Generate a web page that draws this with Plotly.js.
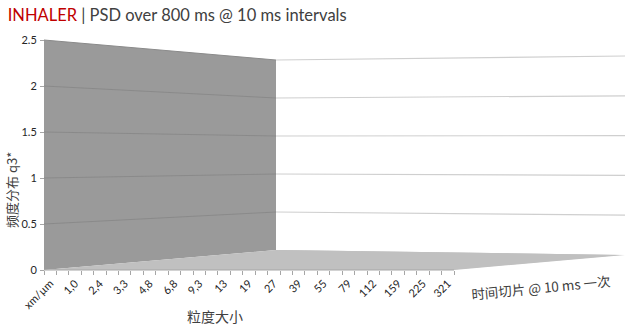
<!DOCTYPE html>
<html><head><meta charset="utf-8">
<script src="https://cdn.plot.ly/plotly-3.0.1.min.js"></script>
<style>html,body{margin:0;padding:0;background:#fff;overflow:hidden}#chart{width:640px;height:330px}</style>
</head><body><div id="chart"></div>
<script>
// ---------------- data ----------------
const particleSizes = ['xm/µm','1,0','2,4','3,3','4,8','6,8','9,3','13','19','27','39','55','79','112','159','225','321'];
const q3Values = [0,0,0,0,0,0,0,0,0,0,0,0,0,0,0,0,0];   // q3* per size class: flat at 0 in every slice
const timeSpanMs = 800;      // PSD over 800 ms
const timeStepMs = 10;       // one slice every 10 ms
const zTickValues = [0, 0.5, 1, 1.5, 2, 2.5];
const zTickLabels = ['0', '0.5', '1', '1.5', '2', '2.5'];

// ---------------- view (3-D box drawn in perspective) ----------------
const W = 640, H = 330;
const FRONT = {l: 44, r: 454, b: 270, t: 40};                        // front face, pixels
const BACK  = {l: 276, r: 625, bl: 250, tl: 60, br: 255, tr: 56};    // back face, pixels
const X0 = -0.25, X1 = particleSizes.length - 1 + 0.25;
const Q0 = zTickValues[0], Q1 = zTickValues[zTickValues.length - 1];
const pxPerX = (FRONT.r - FRONT.l) / (X1 - X0);
const pxPerQ = (FRONT.b - FRONT.t) / (Q1 - Q0);
const xRange = [X0 - FRONT.l / pxPerX, X0 + (W - FRONT.l) / pxPerX];
const yRange = [Q0 - (H - FRONT.b) / pxPerQ, Q0 + FRONT.b / pxPerQ];

function proj(x, q, t) {   // (size index, q3 value, depth 0..1) -> front-face axis coords
  const fx = (x - X0) / (X1 - X0), fq = (q - Q0) / (Q1 - Q0);
  const fu = FRONT.l + fx * (FRONT.r - FRONT.l), fv = FRONT.b - fq * (FRONT.b - FRONT.t);
  const bu = BACK.l + fx * (BACK.r - BACK.l);
  const bb = BACK.bl + fx * (BACK.br - BACK.bl), bt = BACK.tl + fx * (BACK.tr - BACK.tl);
  const bv = bb + fq * (bt - bb);
  const u = fu + (bu - fu) * t, v = fv + (bv - fv) * t;
  return [X0 + (u - FRONT.l) / pxPerX, Q0 + (FRONT.b - v) / pxPerQ];
}
function poly(pts, fill, name) {
  return {type: 'scatter', mode: 'lines', x: pts.map(p => p[0]), y: pts.map(p => p[1]),
    fill: 'toself', fillcolor: fill, line: {width: 0, color: fill}, hoverinfo: 'skip', name: name};
}
function seg(pts, color, width) {
  return {type: 'scatter', mode: 'lines', x: pts.map(p => p[0]), y: pts.map(p => p[1]),
    line: {color: color, width: width}, hoverinfo: 'skip'};
}

const slices = [];
for (let ms = 0; ms < timeSpanMs; ms += timeStepMs) slices.push(ms);
const depth = i => i / (slices.length - 1);

const traces = [];
// side wall (left) and floor
traces.push(poly([proj(X0,Q0,0), proj(X0,Q1,0), proj(X0,Q1,1), proj(X0,Q0,1)], '#9a9a9a', 'side wall'));
traces.push(poly([proj(X0,Q0,0), proj(X1,Q0,0), proj(X1,Q0,1), proj(X0,Q0,1)], '#c0c0c0', 'floor'));
// data surface: q3 for every size class over all time slices
const surf = [];
particleSizes.forEach((s, k) => surf.push(proj(k, q3Values[k], depth(0))));
for (let k = particleSizes.length - 1; k >= 0; k--) surf.push(proj(k, q3Values[k], depth(slices.length - 1)));
traces.push(poly(surf, '#c0c0c0', 'q3 surface'));
// grid lines on the side wall and on the back wall
zTickValues.filter(q => q > Q0).forEach(q => {
  traces.push(seg([proj(X0, q, 0), proj(X0, q, 1)], '#8a8a8a', 1));
  traces.push(seg([proj(X0, q, 1), proj(X1, q, 1)], '#cfcfcf', 1.2));
});
// front edge of the floor (category axis line)
traces.push(seg([proj(X0, Q0, 0), proj(X1, Q0, 0)], '#a6a6a6', 1));

const minorTicks = [];
for (let v = X0; v <= X1 + 1e-9; v += 0.5) minorTicks.push(v);

const FONT = "Lato, 'Noto Sans CJK SC', sans-serif";
const CJK = "'Noto Sans CJK SC', sans-serif";

const layout = {
  width: W, height: H,
  margin: {l: 0, r: 0, t: 0, b: 0},
  paper_bgcolor: '#ffffff', plot_bgcolor: '#ffffff',
  showlegend: false, hovermode: false,
  title: {
    text: '<span style="color:#c00000">INHALER</span><span style="color:#404040"> | PSD over 800 ms @ 10 ms intervals</span>',
    x: 0.012, xanchor: 'left', y: 0.955, yanchor: 'middle',
    font: {family: FONT, size: 16.5, color: '#404040'}
  },
  xaxis: {
    range: xRange, anchor: 'free', position: (H - FRONT.b) / H,
    tickmode: 'array', tickvals: particleSizes.map((_, i) => i), ticktext: particleSizes,
    tickangle: -45, ticks: '', ticklabelstandoff: 4,
    tickfont: {family: FONT, size: 11, color: '#262626'},
    minor: {tickmode: 'array', tickvals: minorTicks, ticks: 'outside', ticklen: 4, tickwidth: 1, tickcolor: '#a6a6a6', showgrid: false},
    showgrid: false, zeroline: false, showline: false, fixedrange: true
  },
  yaxis: {
    range: yRange, anchor: 'free', position: FRONT.l / W,
    tickmode: 'array', tickvals: zTickValues, ticktext: zTickLabels,
    ticks: 'outside', ticklen: 4, tickwidth: 1, tickcolor: '#a6a6a6', ticklabelstandoff: 1,
    tickfont: {family: FONT, size: 11, color: '#262626'},
    showgrid: false, zeroline: false, showline: false, fixedrange: true
  },
  annotations: [
    {text: '粒度大小', xref: 'paper', yref: 'paper', x: 215 / W, y: 1 - 316 / H, showarrow: false,
     font: {family: CJK, size: 14, color: '#404040'}, xanchor: 'center', yanchor: 'middle'},
    {text: '时间切片 @ 10 ms 一次', xref: 'paper', yref: 'paper', x: 541 / W, y: 1 - 287 / H, showarrow: false,
     textangle: -5.5, font: {family: CJK, size: 13.5, color: '#404040'}, xanchor: 'center', yanchor: 'middle'},
    {text: '频度分布 q3*', xref: 'paper', yref: 'paper', x: 11 / W, y: 1 - 190 / H, showarrow: false,
     textangle: -90, font: {family: CJK, size: 13, color: '#404040'}, xanchor: 'center', yanchor: 'middle'}
  ]
};

Plotly.newPlot('chart', traces, layout, {displayModeBar: false, staticPlot: true});
</script>
</body></html>
